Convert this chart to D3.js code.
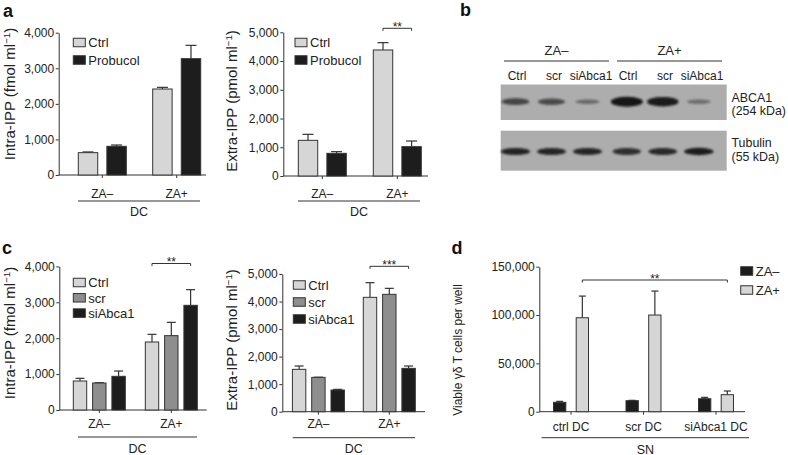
<!DOCTYPE html>
<html><head><meta charset="utf-8">
<script src="https://cdn.jsdelivr.net/npm/d3@7"></script>
<style>
body{margin:0;background:#fff;}
svg{display:block;font-family:"Liberation Sans",Arial,Helvetica,sans-serif;}
</style></head><body>
<svg id="fig" width="788" height="455"></svg>
<script>
// ---------------- data ----------------
const groupsZA = ["ZA–", "ZA+"];
const seriesA = ["Ctrl", "Probucol"];
const a1Mean = [[628, 806], [2417, 3270]];
const a1Err  = [[20, 37], [47, 374]];
const a2Mean = [[1241, 789], [4385, 1021]];
const a2Err  = [[209, 58], [255, 197]];

const seriesC = ["Ctrl", "scr", "siAbca1"];
const c1Mean = [[808, 752, 938], [1894, 2071, 2916]];
const c1Err  = [[74, 8, 148], [214, 371, 436]];
const c2Mean = [[1538, 1247, 787], [4153, 4262, 1574]];
const c2Err  = [[121, 5, 24], [532, 217, 85]];

const groupsD = ["ctrl DC", "scr DC", "siAbca1 DC"];
const seriesD = ["ZA–", "ZA+"];
const dMean = [[9700, 97200], [11400, 100000], [13450, 17600]];
const dErr  = [[1000, 22400], [350, 24800], [1400, 3800]];

const ticks4k = [0, 1000, 2000, 3000, 4000];
const ticks5k = [0, 1000, 2000, 3000, 4000, 5000];
const ticksD  = [0, 50000, 100000, 150000];

const blotConds = ["ZA–", "ZA+"];
const blotLanes = ["Ctrl", "scr", "siAbca1"];
const abca1Signal   = [[0.55, 0.5, 0.22], [1.0, 0.95, 0.2]];
const tubulinSignal = [[0.85, 0.82, 0.82], [0.7, 0.78, 0.92]];

// ---------------- drawing ----------------
const svg = d3.select("#fig");
const INK = "#333";
const TXT = "#222";
const fill = {"Ctrl": "#d6d6d6", "Probucol": "#1d1d1d", "scr": "#8e8e8e", "siAbca1": "#1d1d1d",
              "ZA–": "#1d1d1d", "ZA+": "#d6d6d6"};

function barPanel(o) {
  const g = svg.append("g");
  const y = d3.scaleLinear().domain([0, o.yMax]).range([o.y0, o.y1]);
  const x = d3.scalePoint().domain(o.groups).range(o.xRange);
  const sub = d3.scaleBand().domain(o.series).range([-o.span / 2, o.span / 2]).paddingInner(o.pad);
  const bw = sub.bandwidth();

  // y axis
  const ya = g.append("g").attr("transform", `translate(${o.axisX},0)`)
    .call(d3.axisLeft(y).tickValues(o.ticks).tickFormat(d3.format(",")).tickSize(3).tickSizeOuter(0).tickPadding(1.5));
  ya.selectAll("path,line").attr("stroke", INK).attr("stroke-width", 1);
  ya.selectAll("text").attr("font-size", 12).attr("fill", TXT).attr("font-family", null);

  // x axis
  g.append("line").attr("x1", o.axisX).attr("x2", o.xEnd).attr("y1", o.y0).attr("y2", o.y0)
    .attr("stroke", INK).attr("stroke-width", 1);
  g.selectAll(".xt").data(o.groups).join("line")
    .attr("x1", d => x(d)).attr("x2", d => x(d)).attr("y1", o.y0).attr("y2", o.y0 + 3)
    .attr("stroke", INK);
  g.selectAll(".xl").data(o.groups).join("text")
    .attr("x", d => x(d)).attr("y", o.catY).attr("text-anchor", "middle")
    .attr("font-size", 12).attr("fill", TXT).text(d => d);

  // bars
  const flat = [];
  o.groups.forEach((gk, i) => o.series.forEach((sk, j) =>
    flat.push({g: gk, s: sk, v: o.mean[i][j], e: o.err[i][j]})));
  g.selectAll(".eb").data(flat).join("line")
    .attr("x1", d => x(d.g) + sub(d.s) + bw / 2).attr("x2", d => x(d.g) + sub(d.s) + bw / 2)
    .attr("y1", d => y(d.v)).attr("y2", d => y(d.v + d.e))
    .attr("stroke", INK).attr("stroke-width", 1.2);
  g.selectAll(".ec").data(flat).join("line")
    .attr("x1", d => x(d.g) + sub(d.s) + bw / 2 - o.cap / 2).attr("x2", d => x(d.g) + sub(d.s) + bw / 2 + o.cap / 2)
    .attr("y1", d => y(d.v + d.e)).attr("y2", d => y(d.v + d.e))
    .attr("stroke", INK).attr("stroke-width", 1.2);
  g.selectAll(".bar").data(flat).join("rect")
    .attr("x", d => x(d.g) + sub(d.s)).attr("width", bw)
    .attr("y", d => y(d.v)).attr("height", d => o.y0 - y(d.v))
    .attr("fill", d => fill[d.s]).attr("stroke", INK).attr("stroke-width", 1);

  // group line + label
  g.append("line").attr("x1", o.grp[0]).attr("x2", o.grp[1]).attr("y1", o.grpY).attr("y2", o.grpY)
    .attr("stroke", INK).attr("stroke-width", 1);
  g.append("text").attr("x", (o.grp[0] + o.grp[1]) / 2).attr("y", o.grpLabelY)
    .attr("text-anchor", "middle").attr("font-size", 12.5).attr("fill", TXT).text(o.grpLabel);

  // y label
  const yl = g.append("text").attr("transform", `translate(${o.ylx},${o.yly}) rotate(-90)`)
    .attr("text-anchor", "middle").attr("font-size", o.ylSize).attr("fill", TXT);
  yl.selectAll("tspan").data(o.ylabel).join("tspan")
    .attr("baseline-shift", d => d.sup ? "super" : null)
    .attr("font-size", d => d.sup ? o.ylSize * 0.65 : null)
    .text(d => d.t);

  // legend
  const lg = g.append("g");
  o.series.forEach((s, i) => {
    lg.append("rect").attr("x", o.leg[0]).attr("y", o.leg[1] + i * o.legStep - 4.25)
      .attr("width", 12).attr("height", 8.5).attr("fill", fill[s]).attr("stroke", INK);
    lg.append("text").attr("x", o.leg[0] + 15).attr("y", o.leg[1] + i * o.legStep + 4.7)
      .attr("font-size", 13).attr("fill", TXT).text(s);
  });

  // significance
  if (o.sig) {
    const sg = o.sig;
    const xa = x(o.groups[sg.a[0]]) + sub(o.series[sg.a[1]]) + bw / 2;
    const xb = x(o.groups[sg.b[0]]) + sub(o.series[sg.b[1]]) + bw / 2;
    g.append("path").attr("d", `M${xa},${sg.y + 2.5}V${sg.y}H${xb}V${sg.y + 2.5}`)
      .attr("fill", "none").attr("stroke", INK).attr("stroke-width", 1);
    g.append("text").attr("x", (xa + xb) / 2).attr("y", sg.y + 2.5).attr("text-anchor", "middle")
      .attr("font-size", 12).attr("fill", TXT).text(sg.label);
  }
}

const ylIntra = [{t: "Intra-IPP (fmol ml"}, {t: "−1", sup: true}, {t: ")"}];
const ylExtra = [{t: "Extra-IPP (pmol ml"}, {t: "−1", sup: true}, {t: ")"}];

barPanel({groups: groupsZA, series: seriesA, mean: a1Mean, err: a1Err, yMax: 4000, ticks: ticks4k,
  y0: 175, y1: 32.7, axisX: 58.7, xEnd: 206, xRange: [102.3, 176.7], span: 48, pad: 0.32, cap: 11,
  catY: 198, grp: [78, 200], grpY: 201, grpLabelY: 216, grpLabel: "DC",
  ylabel: ylIntra, ylx: 15, yly: 94, ylSize: 15, leg: [73.3, 42.5], legStep: 17.5});

barPanel({groups: groupsZA, series: seriesA, mean: a2Mean, err: a2Err, yMax: 5000, ticks: ticks5k,
  y0: 176, y1: 32.3, axisX: 283.3, xEnd: 428, xRange: [322.3, 397.3], span: 48, pad: 0.32, cap: 11,
  catY: 198, grp: [298, 420], grpY: 201, grpLabelY: 216, grpLabel: "DC",
  ylabel: ylExtra, ylx: 237, yly: 101, ylSize: 15, leg: [295, 42.5], legStep: 17.5,
  sig: {a: [1, 0], b: [1, 1], y: 28.3, label: "**"}});

barPanel({groups: groupsZA, series: seriesC, mean: c1Mean, err: c1Err, yMax: 4000, ticks: ticks4k,
  y0: 410, y1: 266.4, axisX: 59.3, xEnd: 206.7, xRange: [99.3, 171.3], span: 52, pad: 0.306, cap: 9,
  catY: 428, grp: [78, 197], grpY: 437, grpLabelY: 453, grpLabel: "DC",
  ylabel: ylIntra, ylx: 15, yly: 333, ylSize: 15, leg: [73.3, 282.5], legStep: 15.3,
  sig: {a: [1, 0], b: [1, 2], y: 263.5, label: "**"}});

barPanel({groups: groupsZA, series: seriesC, mean: c2Mean, err: c2Err, yMax: 5000, ticks: ticks5k,
  y0: 411.7, y1: 274, axisX: 282.3, xEnd: 425, xRange: [318.4, 389.3], span: 52, pad: 0.306, cap: 9,
  catY: 428, grp: [292.7, 415], grpY: 437.7, grpLabelY: 453, grpLabel: "DC",
  ylabel: ylExtra, ylx: 237, yly: 340, ylSize: 15, leg: [293.3, 285], legStep: 17,
  sig: {a: [1, 0], b: [1, 2], y: 266.3, label: "***"}});

barPanel({groups: groupsD, series: seriesD, mean: dMean, err: dErr, yMax: 150000, ticks: ticksD,
  y0: 411.7, y1: 266.7, axisX: 539.3, xEnd: 745, xRange: [571, 716], span: 35, pad: 0.458, cap: 7,
  catY: 431, grp: [541.7, 749], grpY: 437.7, grpLabelY: 453.5, grpLabel: "SN",
  ylabel: [{t: "Viable γδ T cells per well"}], ylx: 462, yly: 350, ylSize: 12,
  leg: [740.7, 271], legStep: 19,
  sig: {a: [0, 1], b: [2, 1], y: 280, label: "**"}});

// ---------------- western blot (panel b) ----------------
const defs = svg.append("defs");
defs.append("filter").attr("id", "blur").attr("x", "-50%").attr("y", "-100%").attr("width", "200%").attr("height", "300%")
  .append("feGaussianBlur").attr("stdDeviation", 1.3);

const bg = svg.append("g");
const headX = d3.scalePoint().domain(blotConds).range([556.5, 669.5]);
const condX = d3.scalePoint().domain(blotConds).range([551.5, 662.8]);
const laneOff = d3.scalePoint().domain(blotLanes).range([-36, 36]);
const laneKeys = blotConds.flatMap(c => blotLanes.map(l => c + "|" + l));
const labelX = d3.scalePoint().domain(laneKeys).range([517, 702]);

blotConds.forEach(c => {
  bg.append("text").attr("x", headX(c)).attr("y", 54.5).attr("text-anchor", "middle")
    .attr("font-size", 13).attr("fill", TXT).text(c);
  bg.append("line").attr("x1", headX(c) - 52.5).attr("x2", headX(c) + 52.5).attr("y1", 61).attr("y2", 61)
    .attr("stroke", INK).attr("stroke-width", 1);
});
bg.selectAll(".ll").data(laneKeys).join("text")
  .attr("x", d => labelX(d)).attr("y", 79.5).attr("text-anchor", "middle")
  .attr("font-size", 12).attr("fill", TXT).text(d => d.split("|")[1]);

const blots = [
  {sig: abca1Signal, y0: 84.5, h: 35.5, yc: 101.7, rx: s => 11 + 5 * s, ry: s => 1.4 + 3.6 * s, op: s => 0.3 + 0.7 * s,
   lab: ["ABCA1", "(254 kDa)"], ly: [101.5, 115]},
  {sig: tubulinSignal, y0: 130.7, h: 40, yc: 151.5, rx: s => 12 + 3 * s, ry: s => 2.6 + 1.2 * s, op: s => 0.45 + 0.55 * s,
   lab: ["Tubulin", "(55 kDa)"], ly: [147, 161]}
];
blots.forEach(b => {
  bg.append("rect").attr("x", 500.7).attr("y", b.y0).attr("width", 226).attr("height", b.h).attr("fill", "#adadad");
  blotConds.forEach((c, i) => blotLanes.forEach((l, j) => {
    const s = b.sig[i][j];
    bg.append("ellipse").attr("cx", condX(c) + laneOff(l)).attr("cy", b.yc)
      .attr("rx", b.rx(s)).attr("ry", b.ry(s))
      .attr("fill", "#141414").attr("opacity", b.op(s)).attr("filter", "url(#blur)");
  }));
  b.lab.forEach((t, k) => bg.append("text").attr("x", 731.5).attr("y", b.ly[k])
    .attr("font-size", 12.4).attr("fill", TXT).text(t));
});

// panel letters
[["a", 3, 17], ["b", 460, 15.5], ["c", 2, 253.5], ["d", 451.5, 253.5]].forEach(([t, x, y]) =>
  svg.append("text").attr("x", x).attr("y", y).attr("font-size", 18).attr("font-weight", "bold")
    .attr("fill", "#111").text(t));
</script>
</body></html>
